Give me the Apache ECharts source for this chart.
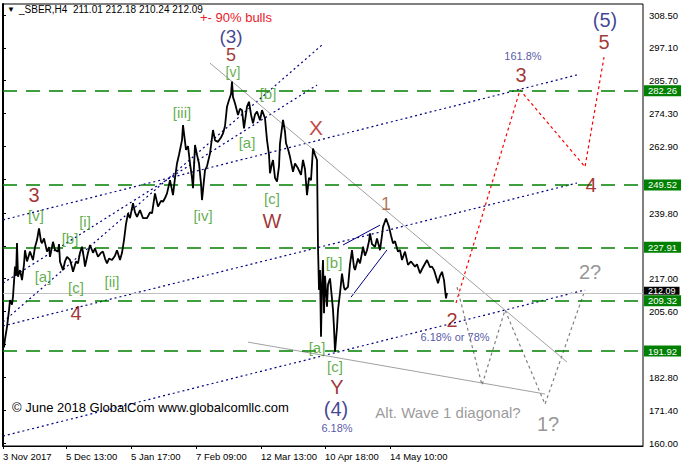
<!DOCTYPE html>
<html><head><meta charset="utf-8">
<script src="https://cdn.jsdelivr.net/npm/echarts@6/dist/echarts.min.js"></script>
<style>html,body{margin:0;padding:0;background:#fff}#c{width:683px;height:467px}</style>
</head><body><div id="c"></div>
<script>
// ---- axis labels ----
const dateLabels = ['3 Nov 2017','5 Dec 13:00','5 Jan 17:00','7 Feb 09:00','12 Mar 13:00','10 Apr 18:00','14 May 10:00'];
const dateBars = [0, 63, 128, 193, 258, 322, 387];
const priceTicks = [160.00,171.40,182.80,194.20,205.60,217.00,228.40,239.80,251.50,262.90,274.30,285.70,297.10,308.50];
// tick labels that stay visible (the others sit under the level boxes)
const priceTickLabels = [160.00,171.40,182.80,205.60,217.00,239.80,262.90,274.30,285.70,297.10,308.50];

// ---- horizontal levels ----
const levelPrices = [282.26, 249.52, 227.91, 209.32, 191.92];
const lastPrice = 212.09;

// ---- SBER H4 price path (bar index, price) ----
const priceBars = [0,1,2,4,6,7,9,10,12,13,14,15,17,19,21,22,24,27,30,32,34,36,38,39,41,44,46,47,50,52,55,56,57,60,62,64,67,69,70,73,75,77,79,81,82,85,87,90,92,95,98,100,102,104,106,109,112,114,117,119,121,123,125,127,130,132,134,137,140,144,147,149,152,155,158,160,162,164,167,170,172,174,176,179,180,183,185,187,189,190,192,194,196,198,199,202,204,207,210,212,215,218,220,222,224,226,228,229,230,232,235,237,239,241,244,246,248,250,252,254,257,259,262,264,266,267,269,270,272,274,276,277,280,282,283,285,287,290,292,295,298,300,302,304,306,308,310,312,314,315,316,317,318,319,320,321,322,324,325,327,329,330,331,332,334,335,337,339,341,342,345,347,349,351,352,355,357,359,360,362,364,366,367,369,372,374,377,379,380,383,385,386,388,390,392,395,397,399,402,405,408,412,414,417,420,424,427,429,431,432,435,437,439,441,443,444];
const priceValues = [195.5,193.2,196.0,200.3,206.0,209.6,208.0,210.8,221.2,218.0,229.4,217.7,220.0,216.5,222.0,226.9,223.0,226.4,223.5,228.0,230.4,234.5,230.0,229.3,231.0,226.4,228.0,224.6,229.8,227.0,226.4,229.0,222.9,220.0,223.0,224.6,223.5,221.0,219.4,223.0,222.3,226.0,228.1,224.0,221.2,226.0,228.7,226.0,227.5,224.6,226.0,226.4,224.0,222.3,224.0,223.5,225.0,226.9,223.5,226.0,230.4,236.0,239.7,238.0,243.2,240.0,238.5,240.8,238.0,238.0,240.0,239.7,246.6,242.0,244.0,243.7,245.0,246.6,251.2,246.0,252.0,257.0,260.0,265.1,270.3,261.7,263.0,257.0,252.0,248.4,263.4,260.0,257.0,250.0,244.3,254.7,256.0,260.5,268.6,265.0,264.5,266.0,267.4,270.0,276.7,279.0,281.0,285.4,280.0,277.9,273.8,276.0,275.5,269.2,276.7,278.4,274.0,270.9,274.0,275.0,272.0,275.5,272.7,265.1,260.0,253.6,257.0,258.2,252.0,250.7,256.0,264.0,272.1,268.0,264.0,262.0,259.3,254.1,257.0,255.3,253.0,258.2,255.0,246.0,252.0,251.2,262.2,260.0,258.2,228.1,213.1,220.0,196.9,215.0,223.5,205.0,218.0,207.3,215.0,217.1,210.0,206.2,200.0,191.7,200.0,206.2,212.0,218.8,214.0,213.1,214.2,222.0,226.9,221.0,220.0,224.0,222.3,226.0,228.1,225.0,226.9,230.0,232.7,229.0,228.1,231.0,226.9,232.0,235.0,237.9,236.0,235.0,232.0,229.3,230.0,226.4,227.0,223.5,226.4,221.8,223.0,221.2,222.0,218.9,221.0,223.5,221.0,221.2,220.0,218.9,215.4,218.0,219.4,216.5,210.2,212.1];

// ---- channel lines (navy dotted) ----
const channelUpper = [[0, 237.4], [574, 287.7]];
const channelMiddle = [[0, 200.6], [574, 250.2]];
const channelLower = [[0, 162.4], [582, 213.1]];
const wave3LineA = [[0, 215.5], [314, 284.2]];
const wave3LineB = [[0, 202.0], [319, 298.1]];
// ---- wave 1 diagonal (navy solid) ----
const diagUpper = [[340, 228.7], [377, 235.6]];
const diagLower = [[348, 210.6], [384, 227.0]];
// ---- grey trend lines ----
const downTrend = [[207, 291.8], [564, 188.1]];
const wedgeBottom = [[245, 195.0], [542, 177.0]];
// ---- projected paths ----
const altPath = [[454, 214.1], [479, 180.1], [502, 206.1], [542, 173.5], [582, 213.1]];
const mainPath = [[453, 208.6], [517, 282.5], [582, 255.8], [601, 293.9]];

// ---- wave labels: [bar, price, text, style] ----
const waveLabels = [
  [228, 301.2, '(3)', 'navyMid'], [228, 294.6, '5', 'redMid'], [230, 288.7, '[v]', 'greenSmall'],
  [179, 274.8, '[iii]', 'green'], [265, 281.1, '[b]', 'green'], [244, 264.1, '[a]', 'green'],
  [313, 269.3, 'X', 'redX'], [200, 239.1, '[iv]', 'green'], [269, 244.7, '[c]', 'green'],
  [269, 237.0, 'W', 'redBig'], [31, 246.0, '3', 'redNum'], [33, 239.1, '[v]', 'green'],
  [82, 236.7, '[i]', 'green'], [67, 231.1, '[b]', 'green'], [40, 217.6, '[a]', 'green'],
  [73, 213.8, '[c]', 'green'], [109, 215.9, '[ii]', 'green'], [73, 205.1, '4', 'redNum'],
  [383, 242.9, '1', 'one'], [331, 222.8, '[b]', 'green'], [314, 193.0, '[a]', 'green'],
  [332, 186.7, '[c]', 'green'], [334, 179.4, 'Y', 'redNum'], [333, 171.8, '(4)', 'navyBig'],
  [334, 165.2, '6.18%', 'navySmall'], [449, 202.6, '2', 'redBig'], [452, 196.9, '6.18% or 78%', 'navySmall'],
  [520, 294.3, '161.8%', 'navySmall'], [518, 287.7, '3', 'redNum'], [588, 249.5, '4', 'redNum'],
  [602, 306.8, '(5)', 'navyBig'], [601, 299.1, '5', 'redBig'], [587, 219.3, '2?', 'grey'],
  [545, 166.6, '1?', 'grey'], [445, 170.7, 'Alt. Wave 1 diagonal?', 'greyText']
];

const FONT = "'Liberation Sans', Arial, sans-serif";
const labelStyles = {
  navyBig: {color: '#12127a', fontSize: 20, lineHeight: 17},
  navyMid: {color: '#12127a', fontSize: 19, lineHeight: 16},
  redBig: {color: '#8b0000', fontSize: 20, lineHeight: 15},
  redMid: {color: '#8b0000', fontSize: 18, lineHeight: 14},
  redNum: {color: '#8b0000', fontSize: 20, lineHeight: 16},
  redX: {color: '#b01818', fontSize: 21, lineHeight: 17},
  one: {color: '#a0522d', fontSize: 18, lineHeight: 15},
  green: {color: '#3a9a1e', fontSize: 15, lineHeight: 13},
  greenSmall: {color: '#3a9a1e', fontSize: 14, lineHeight: 12},
  navySmall: {color: '#2b2b8f', fontSize: 11, lineHeight: 10},
  grey: {color: '#7a7a7a', fontSize: 20, lineHeight: 16},
  greyText: {color: '#808080', fontSize: 15, lineHeight: 13}
};

function seg(data, color, type, width, z) {
  return {type: 'line', data: data, showSymbol: false, symbol: 'none', silent: true, animation: false,
    lineStyle: {color: color, type: type, width: width}, z: z || 3};
}

const chart = echarts.init(document.getElementById('c'), null, {renderer: 'svg'});
chart.setOption({
  animation: false,
  backgroundColor: '#fff',
  grid: {left: 3, right: 40, top: 4, bottom: 21, show: true, borderColor: '#000', borderWidth: 1},
  xAxis: {
    type: 'value', min: 0, max: 640,
    splitLine: {show: false},
    axisLine: {lineStyle: {color: '#000', width: 1}},
    axisTick: {customValues: dateBars, length: 3, lineStyle: {color: '#000'}},
    axisLabel: {customValues: dateBars, align: 'left', margin: 5, color: '#000', fontSize: 9.5, fontFamily: FONT,
      formatter: v => dateLabels[dateBars.indexOf(Math.round(v))] || ''}
  },
  yAxis: {
    type: 'value', position: 'right', min: 158.96, max: 312.32,
    splitLine: {show: false},
    axisLine: {show: true, lineStyle: {color: '#000', width: 2}},
    axisTick: {customValues: priceTicks, length: 3, lineStyle: {color: '#000'}},
    axisLabel: {customValues: priceTickLabels, margin: 6, color: '#000', fontSize: 9.5, fontFamily: FONT,
      lineHeight: 9, formatter: v => v.toFixed(2)}
  },
  graphic: [
    {type: 'text', left: 7, top: 5, style: {text: '▼', font: '8px ' + FONT, fill: '#000'}},
    {type: 'text', left: 19, top: 4, style: {text: '_SBER,H4  211.01 212.18 210.24 212.09', font: '10px ' + FONT, fill: '#000'}},
    {type: 'text', left: 200, top: 11, style: {text: '+- 90% bulls', font: '13px ' + FONT, fill: '#e8202a'}},
    {type: 'text', left: 12, top: 401, style: {text: '© June 2018 GlobalCom www.globalcomllc.com', font: '13px ' + FONT, fill: '#000'}}
  ],
  series: [
    {type: 'line', data: [], silent: true, z: 2,
      markLine: {symbol: ['none', 'none'], silent: true, animation: false,
        data: levelPrices.map(v => ({yAxis: v})),
        lineStyle: {color: '#008000', type: [14, 9], width: 1.5},
        label: {position: 'end', distance: 1, formatter: p => p.value.toFixed(2), color: '#fff',
          backgroundColor: '#008000', padding: [1, 4, 0, 4], lineHeight: 10, fontSize: 9.5, fontFamily: FONT}}},
    {type: 'line', data: [], silent: true, z: 2,
      markLine: {symbol: ['none', 'none'], silent: true, animation: false,
        data: [{yAxis: lastPrice}],
        lineStyle: {color: '#c0c0c0', type: 'solid', width: 1},
        label: {position: 'end', distance: 1, offset: [0, -2], formatter: p => p.value.toFixed(2), color: '#fff',
          backgroundColor: '#000', padding: [0, 4, 0, 4], lineHeight: 8, fontSize: 9, fontFamily: FONT}}},
    seg(channelUpper, '#000080', [2, 3], 1.2),
    seg(channelMiddle, '#000080', [2, 3], 1.2),
    seg(channelLower, '#000080', [2, 3], 1.2),
    seg(wave3LineA, '#000080', [2, 3], 1.2),
    seg(wave3LineB, '#000080', [2, 3], 1.2),
    seg(diagUpper, '#000080', 'solid', 1),
    seg(diagLower, '#000080', 'solid', 1),
    seg(downTrend, '#a0a0a0', 'solid', 1),
    seg(wedgeBottom, '#a0a0a0', 'solid', 1),
    seg(altPath, '#808080', [3, 3], 1.2),
    seg(mainPath, '#ff0000', [3, 3], 1.2),
    {type: 'line', data: priceBars.map((b, i) => [b, priceValues[i]]), showSymbol: false, symbol: 'none',
      silent: true, z: 5, lineStyle: {color: '#000', width: 1.8}},
    {type: 'scatter', silent: true, z: 6, symbolSize: 1, itemStyle: {color: 'rgba(0,0,0,0)'},
      data: waveLabels.map(l => ({value: [l[0], l[1]], name: l[2],
        label: Object.assign({show: true, position: 'inside', formatter: '{b}', fontFamily: FONT}, labelStyles[l[3]])}))}
  ]
});
</script></body></html>
